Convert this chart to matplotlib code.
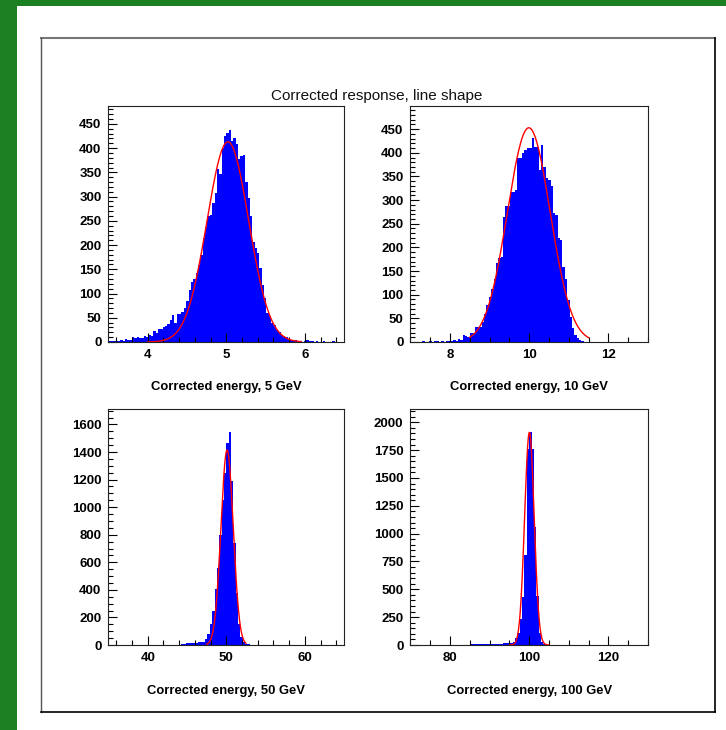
import matplotlib
matplotlib.use("Agg")
import matplotlib.pyplot as plt
import numpy as np
from matplotlib.ticker import MultipleLocator
from matplotlib.patches import Rectangle
from matplotlib.lines import Line2D

plt.rcParams['font.family'] = ['Liberation Sans', 'DejaVu Sans']

# ---------------- data ----------------
title = "Corrected response, line shape"
beam_energies = [5, 10, 50, 100]
x_labels = ["Corrected energy, 5 GeV", "Corrected energy, 10 GeV",
            "Corrected energy, 50 GeV", "Corrected energy, 100 GeV"]
x_ranges = [(3.5, 6.5), (7.0, 13.0), (35.0, 65.0), (70.0, 130.0)]
n_bins = 100

counts_5 = [
    2, 3, 3, 3, 2, 4, 3, 6, 5, 4,
    10, 9, 10, 8, 8, 12, 11, 14, 13, 22,
    18, 26, 26, 30, 32, 38, 45, 56, 39, 57,
    58, 61, 71, 84, 108, 124, 130, 142, 158, 179,
    214, 238, 260, 262, 286, 308, 358, 347, 400, 425,
    432, 437, 415, 420, 408, 378, 383, 386, 331, 297,
    260, 207, 195, 183, 152, 117, 91, 60, 53, 40,
    36, 25, 21, 14, 12, 10, 7, 5, 3, 4,
    2, 3, 1, 2, 5, 2, 3, 1, 2, 0,
    1, 2, 1, 0, 1, 3, 1, 0, 1, 1,
]
counts_10 = [
    0, 1, 0, 1, 0, 2, 1, 0, 2, 1,
    3, 2, 1, 2, 1, 3, 2, 3, 4, 3,
    7, 5, 14, 12, 10, 18, 18, 32, 32, 32,
    42, 60, 78, 95, 113, 134, 166, 177, 180, 265,
    287, 287, 318, 318, 322, 388, 390, 400, 406, 410,
    410, 431, 413, 413, 364, 417, 371, 346, 342, 330,
    272, 268, 220, 215, 159, 134, 88, 53, 30, 15,
    8, 4, 2, 1, 1, 0, 1, 0, 0, 1,
    1, 0, 0, 0, 1, 0, 0, 0, 0, 1,
    0, 0, 0, 0, 0, 0, 0, 0, 0, 0,
]
counts_50 = [
    0, 0, 0, 0, 0, 0, 0, 0, 0, 0,
    0, 0, 0, 1, 0, 0, 0, 0, 1, 0,
    0, 0, 0, 0, 1, 0, 0, 0, 0, 1,
    2, 4, 10, 12, 12, 15, 17, 18, 22, 24,
    25, 45, 80, 150, 245, 408, 560, 800, 1050, 1250,
    1463, 1545, 1190, 738, 375, 150, 55, 24, 10, 5,
    2, 1, 0, 0, 0, 0, 0, 0, 0, 0,
    0, 0, 0, 0, 0, 0, 0, 0, 0, 0,
    0, 0, 0, 0, 0, 0, 0, 0, 0, 0,
    0, 0, 0, 0, 0, 0, 0, 0, 0, 0,
]
counts_100 = [
    0, 0, 1, 0, 0, 0, 1, 0, 0, 0,
    3, 1, 0, 0, 1, 0, 0, 1, 0, 1,
    0, 1, 2, 1, 3, 5, 6, 8, 7, 9,
    8, 10, 9, 11, 10, 12, 11, 13, 12, 14,
    15, 16, 18, 25, 60, 105, 230, 434, 808, 1757,
    1910, 1757, 1063, 438, 105, 30, 8, 3, 1, 0,
    1, 0, 0, 0, 0, 0, 0, 0, 0, 0,
    0, 0, 0, 0, 0, 0, 0, 0, 0, 0,
    0, 0, 0, 0, 0, 0, 0, 0, 0, 0,
    0, 0, 0, 0, 0, 0, 0, 0, 0, 0,
]
all_counts = [counts_5, counts_10, counts_50, counts_100]

# Gaussian fit results (constant, mean, sigma) and fit ranges
fit_const = [413, 453, 1415, 1910]
fit_mean = [5.02, 9.99, 50.1, 100.05]
fit_sigma = [0.265, 0.54, 0.78, 1.2]
fit_ranges = [(4.0, 5.95), (8.5, 11.5), (47.5, 52.5), (95.0, 105.0)]

y_max = [487, 499, 1710, 2117]
y_major = [50, 50, 200, 250]
y_minor = [10, 10, 50, 50]
x_major = [1, 2, 10, 20]
x_minor = [0.2, 0.5, 2, 5]

# ---------------- layout ----------------
W, H = 726, 730
fig = plt.figure(figsize=(W / 100, H / 100), dpi=100)
fig.patch.set_facecolor('white')

green = '#1a8021'
fig.add_artist(Rectangle((0, 0), 17 / W, 1, transform=fig.transFigure,
                         facecolor=green, edgecolor='none', zorder=0))
fig.add_artist(Rectangle((0, 1 - 6 / H), 1, 6 / H, transform=fig.transFigure,
                         facecolor=green, edgecolor='none', zorder=0))

# outer frame
fl, fr, ft, fb = 40.7, 715, 38.3, 712
def fx(x):
    return x / W
def fy(y):
    return 1 - y / H
fig.add_artist(Line2D([fx(fl), fx(fr)], [fy(ft), fy(ft)], transform=fig.transFigure,
                      color='#777777', lw=1.5))
fig.add_artist(Line2D([fx(fl), fx(fl)], [fy(ft), fy(fb)], transform=fig.transFigure,
                      color='#555555', lw=1.0))
fig.add_artist(Line2D([fx(fr), fx(fr)], [fy(ft), fy(fb)], transform=fig.transFigure,
                      color='black', lw=1.2))
fig.add_artist(Line2D([fx(fl), fx(fr)], [fy(fb), fy(fb)], transform=fig.transFigure,
                      color='black', lw=1.2))

fig.text(fx(377), fy(96), title, ha='center', va='center', fontsize=11, color='#111111')

cols = [(108.4, 344.2), (410.4, 648.0)]
rows = [(106.0, 342.0), (409.3, 645.0)]
label_y = [387, 691]

for k in range(4):
    r, c = divmod(k, 2)
    l, rr = cols[c]
    t, b = rows[r]
    ax = fig.add_axes([l / W, 1 - b / H, (rr - l) / W, (b - t) / H])
    lo, hi = x_ranges[k]
    edges = np.linspace(lo, hi, n_bins + 1)
    ax.stairs(all_counts[k], edges, fill=True, color='#0000ff', lw=0)
    xs = np.linspace(fit_ranges[k][0], fit_ranges[k][1], 400)
    ys = fit_const[k] * np.exp(-0.5 * ((xs - fit_mean[k]) / fit_sigma[k]) ** 2)
    ax.plot(xs, ys, color='#ff0000', lw=1.0)
    ax.set_xlim(lo, hi)
    ax.set_ylim(0, y_max[k])
    ax.xaxis.set_major_locator(MultipleLocator(x_major[k]))
    ax.xaxis.set_minor_locator(MultipleLocator(x_minor[k]))
    ax.yaxis.set_major_locator(MultipleLocator(y_major[k]))
    ax.yaxis.set_minor_locator(MultipleLocator(y_minor[k]))
    ax.tick_params(which='both', direction='in', top=False, right=False,
                   width=0.8, color='black')
    ax.tick_params(which='major', length=6.2)
    ax.tick_params(which='minor', length=3.4)
    ax.tick_params(axis='x', pad=5)
    ax.tick_params(axis='y', pad=5)
    for lab in ax.get_xticklabels() + ax.get_yticklabels():
        lab.set_fontweight('bold')
        lab.set_fontsize(9.5)
    for s in ax.spines.values():
        s.set_linewidth(0.8)
        s.set_color('#222222')
    ax.set_facecolor('white')
    fig.text(fx((l + rr) / 2), fy(label_y[r]), x_labels[k], ha='center', va='center',
             fontsize=9.4, fontweight='bold')

fig.savefig('out.png', dpi=100, facecolor='white')
